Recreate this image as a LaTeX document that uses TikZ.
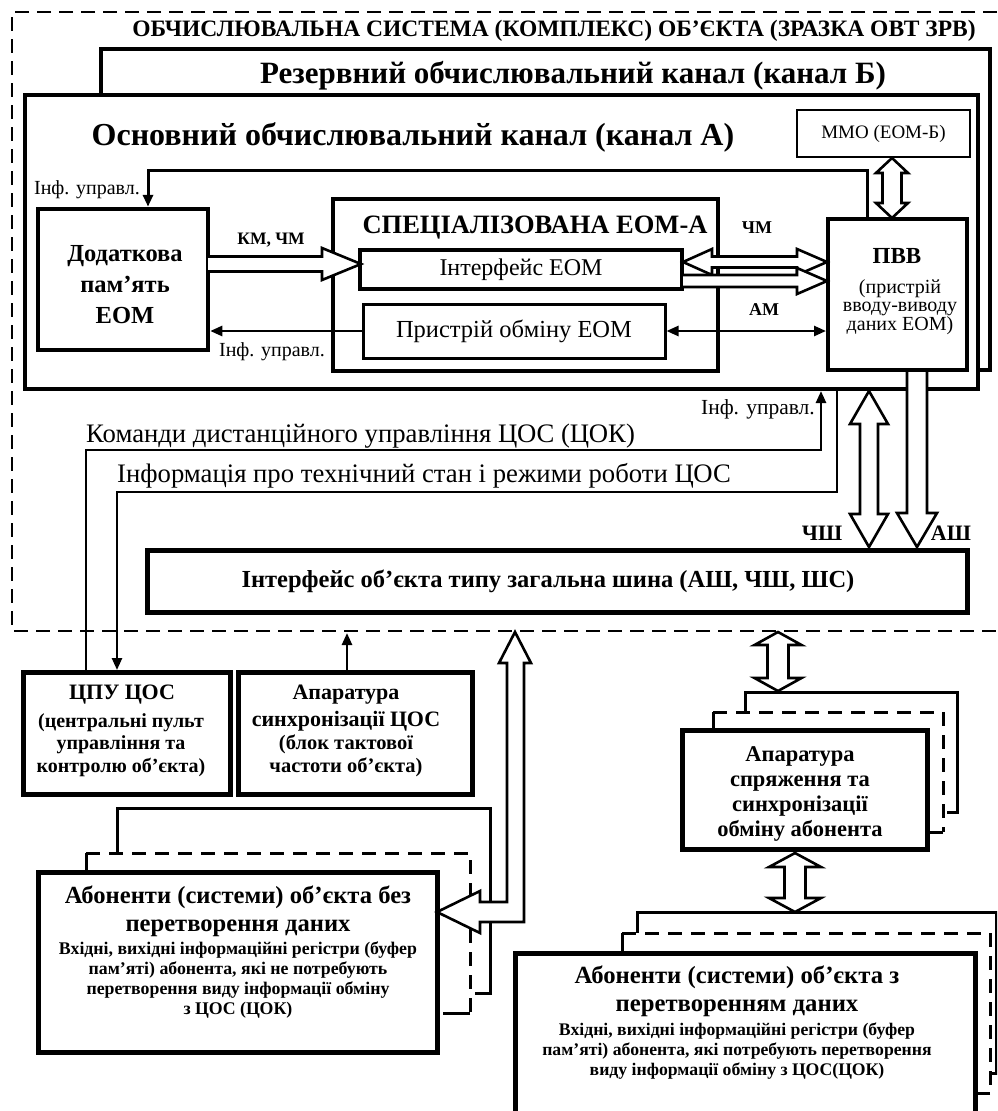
\documentclass[tikz,border=0pt]{standalone}
\usepackage{fontspec}
\setmainfont{Liberation Serif}
\usetikzlibrary{fit,calc,arrows.meta}
\begin{document}
\begin{tikzpicture}[x=1pt,y=-1pt,
  bx/.style={draw, line width=#1, inner sep=0pt},
  bx/.default=4pt,
  ln/.style={line width=2.5pt},
  arr/.style={ln, -{Triangle[length=12pt,width=10pt]}},
  darr/.style={ln, {Triangle[length=12pt,width=10pt]}-{Triangle[length=12pt,width=10pt]}},
  hol/.style={draw, fill=white, line width=2.6pt, line join=miter},
  dsh/.style={line width=3pt, dash pattern=on 14pt off 9pt},
  txt/.style={inner sep=0pt, align=center},
  fs/.style={font=\fontsize{#1}{#1}\selectfont},
  bfs/.style={font=\fontsize{#1}{#1}\selectfont\bfseries},
]
\useasboundingbox (0,0) rectangle (997,1111);
\clip (0,0) rectangle (997,1111);

% outer dashed frame
\draw[line width=2pt, dash pattern=on 14pt off 8pt] (997,12) -- (12,12) -- (12,631) -- (997,631);
\node[txt, bfs=23.5] (title) at (554,31) {ОБЧИСЛЮВАЛЬНА СИСТЕМА (КОМПЛЕКС) ОБ’ЄКТА (ЗРАЗКА ОВТ ЗРВ)};

% reserve channel B
\draw[line width=4pt] (101,95) -- (101,49) -- (990,49) -- (990,370) -- (978,370);
\node[txt, bfs=31] (titleB) at (573,76) {Резервний обчислювальний канал (канал Б)};

% main channel A
\node[bx=4pt, fit={(25,95) (978,389)}] (mainA) {};
\node[txt, bfs=32] (titleA) at (413,137) {Основний обчислювальний канал (канал А)};

% MMO
\node[bx=1.5pt, fit={(797,110) (970,157)}] (mmo) {};
\node[txt, fs=19] at (mmo.center) {ММО (ЕОМ-Б)};

% Additional memory
\node[bx=4.5pt, fit={(38,209) (208,350)}] (dod) {};
\node[txt, font=\fontsize{24.5}{31}\selectfont\bfseries] at (125,285) {Додаткова\\пам’ять\\ЕОМ};

% Specialized computer
\node[bx=3.5pt, fit={(333,199) (718,371)}] (spec) {};
\node[txt, bfs=26.5] (spect) at (535,228) {СПЕЦІАЛІЗОВАНА ЕОМ-А};
\node[bx=4pt, fit={(360,250) (682,289)}] (ifc) {};
\node[txt, fs=24] at (521,270) {Інтерфейс ЕОМ};
\node[bx=3pt, fit={(363,304) (665,358)}] (prist) {};
\node[txt, fs=24.5] at (514,331) {Пристрій обміну ЕОМ};

% PVV
\node[bx=4pt, fit={(828,219) (967,370)}] (pvv) {};
\node[txt, bfs=23] at (897,256) {ПВВ};
\node[txt, font=\fontsize{20}{18.5}\selectfont] at (900,307) {(пристрій\\вводу-виводу\\даних ЕОМ)};

% feedback Inf. upravl.
\draw[arr, line width=3pt] (867,0 |- pvv.north) -- (867,170) -- (148,170) -- (148,0 |- dod.north);
\node[txt, fs=20] at (87,190) {Інф. управл.};

% prist -> dod
\draw[arr] (prist.west) -- (dod.east |- prist.west);
\node[txt, fs=20] at (272,352) {Інф. управл.};

% AM
\draw[darr] (prist.east) -- (pvv.west |- prist.east);
\node[txt, bfs=18] at (764,310) {АМ};
\node[txt, bfs=18] at (757,228) {ЧМ};
\node[txt, bfs=17.5] at (271,240) {КМ, ЧМ};

% hollow arrows
\draw[hol] (208,256.5) -- (322,256.5) -- (322,248) -- (361,264) -- (322,280) -- (322,271.5) -- (208,271.5);
\draw[hol] (683,262) -- (712,249) -- (712,256.5) -- (797,256.5) -- (797,249) -- (827,262) -- (797,275) -- (797,267.5) -- (712,267.5) -- (712,275) -- cycle;
\draw[hol] (683,275) -- (797,275) -- (797,268) -- (827,281) -- (797,294) -- (797,287) -- (683,287);
\draw[hol] (892,158) -- (908,173) -- (901.5,173) -- (901.5,203) -- (908,203) -- (892,218) -- (876,203) -- (882.5,203) -- (882.5,173) -- (876,173) -- cycle;

% below main box
\draw[line width=2.5pt, -{Triangle[length=12pt,width=10pt]}] (86,672) -- (86,450) -- (821,450) -- (821,391);
\draw[arr] (837,391) -- (837,492) -- (117,492) -- (117,670);
\node[txt, fs=26.7, anchor=west] at (86,436) {Команди дистанційного управління ЦОС (ЦОК)};
\node[txt, fs=26.7, anchor=west] at (117,476) {Інформація про технічний стан і режими роботи ЦОС};
\node[txt, fs=21.5, anchor=east] at (815,409) {Інф. управл.};

% bus arrows
\draw[hol] (869,391) -- (888,424) -- (878,424) -- (878,514) -- (888,514) -- (869,547) -- (850,514) -- (860,514) -- (860,424) -- (850,424) -- cycle;
\draw[hol] (907,372) -- (907,513) -- (897,513) -- (917,547) -- (937,513) -- (927,513) -- (927,372);
\node[txt, bfs=22] at (822,533) {ЧШ};
\node[txt, bfs=22] at (951,533) {АШ};

% bus
\node[bx=5pt, fit={(147,550) (967,612)}] (bus) {};
\node[txt, bfs=24.5] at (548,581) {Інтерфейс об’єкта типу загальна шина (АШ, ЧШ, ШС)};

% CPU
\node[bx=5pt, fit={(23,672) (230,794)}] (cpu) {};
\node[txt, bfs=22] at (122,695) {ЦПУ ЦОС};
\node[txt, font=\fontsize{20}{22.5}\selectfont\bfseries] at (121,745) {(центральні пульт\\управління та\\контролю об’єкта)};

% sync
\node[bx=5pt, fit={(238,672) (472,794)}] (sync) {};
\node[txt, font=\fontsize{22}{27}\selectfont\bfseries] at (346,708) {Апаратура\\синхронізації ЦОС};
\node[txt, font=\fontsize{20.5}{23}\selectfont\bfseries] at (346,756) {(блок тактової\\частоти об’єкта)};
\draw[arr] (347,0 |- sync.north) -- (347,633);

% interface apparatus
\draw[line width=3pt] (745,712) -- (745,692) -- (957,692) -- (957,812) -- (947,812);
\draw[line width=3pt] (713,730) -- (713,712);
\draw[dsh] (713,712) -- (943,712) -- (943,832);
\draw[line width=3pt] (943,832) -- (930,832);
\node[bx=5pt, fill=white, fit={(682,730) (927,849)}] (spr) {};
\node[txt, font=\fontsize{22.5}{25}\selectfont\bfseries] at (800,794) {Апаратура\\спряження та\\синхронізації\\обміну абонента};

\draw[hol] (778,632) -- (801.5,645) -- (788.5,645) -- (788.5,678) -- (801.5,678) -- (778,691) -- (754.5,678) -- (767.5,678) -- (767.5,645) -- (754.5,645) -- cycle;
\draw[hol] (795,853) -- (821,867) -- (805.5,867) -- (805.5,898) -- (821,898) -- (795,912) -- (769,898) -- (784.5,898) -- (784.5,867) -- (769,867) -- cycle;

% subscribers without conversion
\draw[line width=3pt] (117,853) -- (117,808) -- (490,808) -- (490,993) -- (475,993);
\draw[line width=3pt] (86,872) -- (86,853);
\draw[dsh] (86,853) -- (470,853) -- (470,1013);
\draw[line width=3pt] (470,1013) -- (443,1013);
\node[bx=5pt, fill=white, fit={(38,872) (437,1052)}] (abA) {};
\node[txt, font=\fontsize{24.6}{28}\selectfont\bfseries] at (238,911) {Абоненти (системи) об’єкта без\\перетворення даних};
\node[txt, font=\fontsize{17.8}{20}\selectfont\bfseries] at (238,980) {Вхідні, вихідні інформаційні регістри (буфер\\пам’яті) абонента, які не потребують\\перетворення виду інформації обміну\\з ЦОС (ЦОК)};

% L-shaped hollow arrow
\draw[hol] (515,632) -- (531,663) -- (524,663) -- (524,922) -- (480,922) -- (480,933) -- (437,912) -- (480,891) -- (480,902) -- (507,902) -- (507,663) -- (499,663) -- cycle;

% subscribers with conversion
\draw[line width=3pt] (637,933) -- (637,912) -- (996,912) -- (996,1073) -- (991,1073);
\draw[line width=3pt] (622,953) -- (622,933);
\draw[dsh] (622,933) -- (990,933) -- (990,1093);
\draw[line width=3pt] (990,1093) -- (978,1093);
\node[bx=5pt, fill=white, fit={(515,953) (975,1125)}] (abB) {};
\node[txt, font=\fontsize{24.7}{28}\selectfont\bfseries] at (737,991) {Абоненти (системи) об’єкта з\\перетворенням даних};
\node[txt, font=\fontsize{17.7}{20}\selectfont\bfseries] at (737,1051) {Вхідні, вихідні інформаційні регістри (буфер\\пам’яті) абонента, які потребують перетворення\\виду інформації обміну з ЦОС(ЦОК)};
\end{tikzpicture}
\end{document}
